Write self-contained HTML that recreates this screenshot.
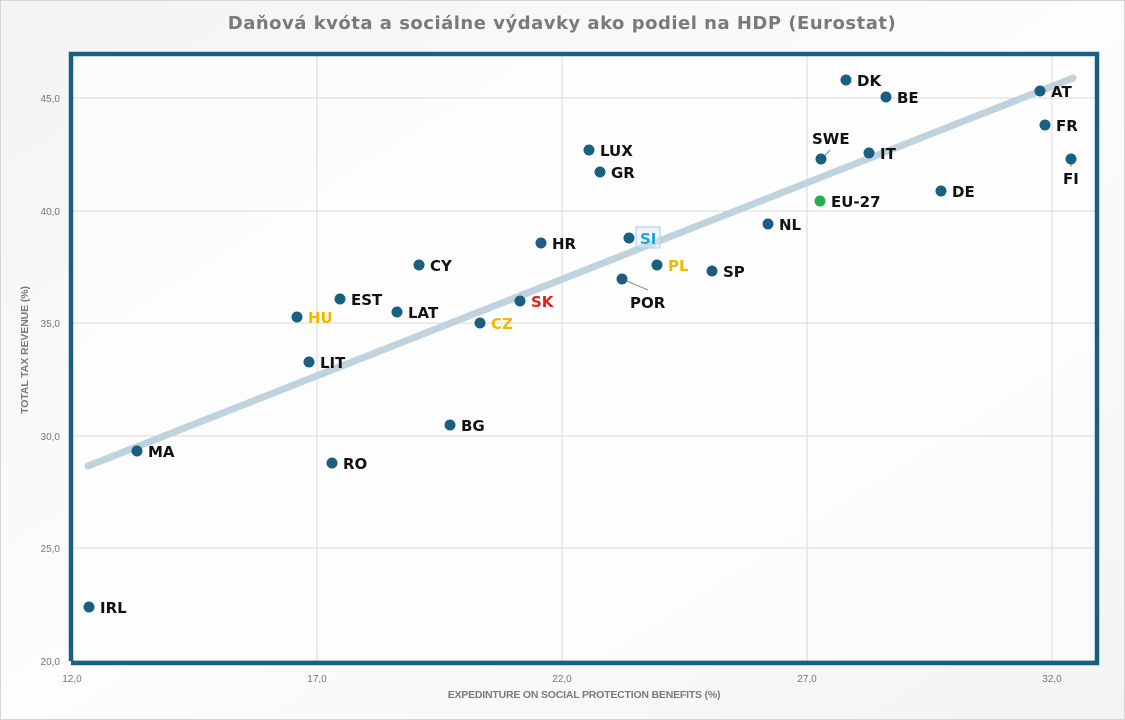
<!DOCTYPE html>
<html><head><meta charset="utf-8"><style>
html,body{margin:0;padding:0;background:#fff}
svg{display:block}
.t{font-family:"Liberation Sans",sans-serif;font-size:10px;fill:#777}
.l{font-family:"DejaVu Sans","Liberation Sans",sans-serif;font-size:15px;font-weight:bold;fill:#111}
</style></head><body>
<svg width="1125" height="720" viewBox="0 0 1125 720">
<defs><linearGradient id="bg" x1="0" y1="0" x2="1" y2="1"><stop offset="0" stop-color="#f3f3f3"/><stop offset="0.5" stop-color="#fdfdfd"/><stop offset="1" stop-color="#f3f3f3"/></linearGradient></defs>
<rect x="0.5" y="0.5" width="1124" height="719" fill="url(#bg)" stroke="#d6d6d6"/>
<text x="562" y="29" text-anchor="middle" font-family="DejaVu Sans,Liberation Sans,sans-serif" font-size="18" font-weight="bold" fill="#7a7a7a" letter-spacing="0.5">Daňová kvóta a sociálne výdavky ako podiel na HDP (Eurostat)</text>
<rect x="71" y="54" width="1026" height="607" fill="#fff" fill-opacity="0.6"/>
<g stroke="#d9d9d9" stroke-width="1">
<line x1="317" y1="56" x2="317" y2="661"/><line x1="562" y1="56" x2="562" y2="661"/><line x1="807" y1="56" x2="807" y2="661"/><line x1="1052" y1="56" x2="1052" y2="661"/>
<line x1="71" y1="98" x2="1097" y2="98"/><line x1="71" y1="211" x2="1097" y2="211"/><line x1="71" y1="323" x2="1097" y2="323"/><line x1="71" y1="436" x2="1097" y2="436"/><line x1="71" y1="548" x2="1097" y2="548"/>
</g>
<line x1="71" y1="662" x2="1097" y2="662" stroke="#8fb6cc" stroke-width="3"/>
<path d="M71,661 V54 H1097 V663 H71" fill="none" stroke="#1a5f80" stroke-width="4.5"/>
<line x1="71" y1="664" x2="1097" y2="664" stroke="#1a5f80" stroke-width="2"/>
<line x1="88" y1="466" x2="1073" y2="78" stroke="#bfd3de" stroke-width="7" stroke-linecap="round"/>
<g class="t" text-anchor="end">
<text x="60" y="102">45,0</text><text x="60" y="215">40,0</text><text x="60" y="327">35,0</text><text x="60" y="440">30,0</text><text x="60" y="552">25,0</text><text x="60" y="665">20,0</text>
</g>
<g class="t" text-anchor="middle">
<text x="72" y="682">12,0</text><text x="317" y="682">17,0</text><text x="562" y="682">22,0</text><text x="807" y="682">27,0</text><text x="1052" y="682">32,0</text>
</g>
<text x="584" y="698" text-anchor="middle" font-family="Liberation Sans,sans-serif" font-size="10.5" font-weight="bold" fill="#7a7a7a" letter-spacing="-0.2">EXPEDINTURE ON SOCIAL PROTECTION BENEFITS (%)</text>
<text transform="translate(28,350) rotate(-90)" text-anchor="middle" font-family="Liberation Sans,sans-serif" font-size="10.5" font-weight="bold" fill="#7a7a7a" letter-spacing="-0.1">TOTAL TAX REVENUE (%)</text>
<g stroke="#888" stroke-width="1">
<line x1="822" y1="159" x2="830" y2="150"/><line x1="1071" y1="159" x2="1071" y2="167"/><line x1="622" y1="279" x2="648" y2="290"/>
</g>
<rect x="636" y="227" width="24" height="21" fill="#dbeaf5" fill-opacity="0.5" stroke="#a9cde6"/>
<g fill="#1a5f80">
<circle cx="846" cy="80" r="5.5"/><circle cx="886" cy="97" r="5.5"/><circle cx="1040" cy="91" r="5.5"/><circle cx="1045" cy="125" r="5.5"/><circle cx="1071" cy="159" r="5.5"/>
<circle cx="821" cy="159" r="5.5"/><circle cx="869" cy="153" r="5.5"/><circle cx="941" cy="191" r="5.5"/><circle cx="768" cy="224" r="5.5"/>
<circle cx="589" cy="150" r="5.5"/><circle cx="600" cy="172" r="5.5"/><circle cx="541" cy="243" r="5.5"/><circle cx="629" cy="238" r="5.5"/><circle cx="657" cy="265" r="5.5"/><circle cx="622" cy="279" r="5.5"/><circle cx="712" cy="271" r="5.5"/>
<circle cx="520" cy="301" r="5.5"/><circle cx="480" cy="323" r="5.5"/><circle cx="419" cy="265" r="5.5"/><circle cx="340" cy="299" r="5.5"/><circle cx="397" cy="312" r="5.5"/><circle cx="297" cy="317" r="5.5"/><circle cx="309" cy="362" r="5.5"/>
<circle cx="450" cy="425" r="5.5"/><circle cx="332" cy="463" r="5.5"/><circle cx="137" cy="451" r="5.5"/><circle cx="89" cy="607" r="5.5"/>
</g>
<circle cx="820" cy="201" r="5.5" fill="#22b14c"/>
<g class="l">
<text x="857" y="86">DK</text><text x="897" y="103">BE</text><text x="1051" y="97">AT</text><text x="1056" y="131">FR</text><text x="1063" y="184">FI</text>
<text x="812" y="144">SWE</text><text x="880" y="159">IT</text><text x="952" y="197">DE</text><text x="831" y="207">EU-27</text><text x="779" y="230">NL</text>
<text x="600" y="156">LUX</text><text x="611" y="178">GR</text><text x="552" y="249">HR</text><text x="640" y="244" fill="#1fa3d8">SI</text><text x="668" y="271" fill="#f2b800">PL</text><text x="630" y="308">POR</text><text x="723" y="277">SP</text>
<text x="531" y="307" fill="#e02020">SK</text><text x="491" y="329" fill="#f2b800">CZ</text><text x="430" y="271">CY</text><text x="351" y="305">EST</text><text x="408" y="318">LAT</text><text x="308" y="323" fill="#f2b800">HU</text><text x="320" y="368">LIT</text>
<text x="461" y="431">BG</text><text x="343" y="469">RO</text><text x="148" y="457">MA</text><text x="100" y="613">IRL</text>
</g>
</svg>
</body></html>
